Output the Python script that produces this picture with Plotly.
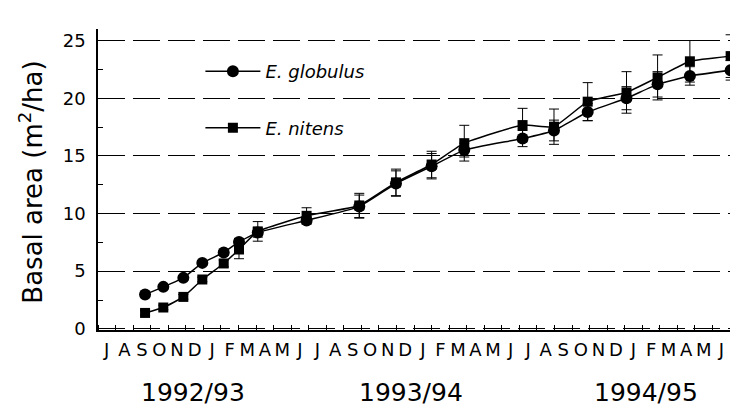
import plotly.graph_objects as go

# ---- data ----
month_labels = ["J", "A", "S", "O", "N", "D", "J", "F", "M", "A", "M", "J"] * 3
month_centres = [i + 0.5 for i in range(36)]
season_labels = ["1992/93", "1993/94", "1994/95"]
season_pos = [5.4, 17.8, 31.2]

# sampling dates, in months since 1 July 1992
t = [2.68, 3.72, 4.86, 5.94, 7.16, 8.03, 9.1, 11.88, 14.88, 16.97, 19.0,
     20.86, 24.18, 25.97, 27.89, 30.1, 31.87, 33.71, 36.03]
globulus = [2.98, 3.64, 4.42, 5.72, 6.62, 7.54, 8.35, 9.4, 10.6, 12.6, 14.1,
            15.5, 16.5, 17.2, 18.8, 20.0, 21.2, 21.93, 22.42]
nitens = [1.38, 1.85, 2.77, 4.28, 5.67, 6.88, 8.45, 9.8, 10.7, 12.7, 14.25,
          16.1, 17.67, 17.53, 19.7, 20.5, 21.8, 23.2, 23.65]
globulus_err = [0.2, 0.2, 0.2, 0.2, 0.2, 0.3, 0.4, 0.3, 1.0, 1.1, 1.1, 0.6,
                0.7, 0.9, 0.75, 1.0, 1.1, 0.8, 0.85]
nitens_err = [0.2, 0.2, 0.2, 0.2, 0.3, 0.8, 0.85, 0.7, 1.05, 1.15, 1.15, 1.55,
              1.45, 1.53, 1.65, 1.8, 1.95, 1.8, 1.85]

FONT = "DejaVu Sans"

fig = go.Figure()
fig.add_trace(go.Scatter(
    x=t, y=globulus, name="<i>E. globulus</i>", legendgroup="g",
    mode="lines+markers",
    line=dict(color="black", width=1.5, shape="spline", smoothing=0.4),
    marker=dict(symbol="circle", size=12, color="black"),
    error_y=dict(type="data", array=globulus_err, color="black",
                 thickness=1, width=5),
    cliponaxis=False,
))
fig.add_trace(go.Scatter(
    x=t, y=nitens, name="<i>E. nitens</i>", legendgroup="n",
    mode="lines+markers",
    line=dict(color="black", width=1.5, shape="spline", smoothing=0.4),
    marker=dict(symbol="square", size=10, color="black"),
    error_y=dict(type="data", array=nitens_err, color="black",
                 thickness=1, width=5),
    cliponaxis=False,
))

for lab, pos in zip(season_labels, season_pos):
    fig.add_annotation(x=pos, xref="x", y=-0.209, yref="paper",
                       text=lab, showarrow=False, xanchor="center",
                       yanchor="middle",
                       font=dict(family=FONT, size=25, color="black"))

fig.add_annotation(x=-0.106, xref="paper", y=0.49, yref="paper",
                   text="Basal area (m<sup>2</sup>/ha)", textangle=-90,
                   showarrow=False, xanchor="center", yanchor="middle",
                   font=dict(family=FONT, size=26, color="black"))

# page body has an 8px margin, so the figure is 8px smaller than the window
fig.update_layout(
    width=730, height=409,
    margin=dict(l=90, r=0, t=21, b=87),
    paper_bgcolor="white", plot_bgcolor="white",
    font=dict(family=FONT, color="black"),
    showlegend=True,
    legend=dict(x=0.16, y=0.92, xanchor="left", yanchor="top",
                bgcolor="rgba(0,0,0,0)", itemwidth=55,
                tracegroupgap=30,
                font=dict(family=FONT, size=18, color="black")),
    xaxis=dict(
        range=[0, 36.45], showgrid=False, zeroline=False, automargin=False,
        showline=True, linecolor="black", linewidth=1.5,
        tickmode="array", tickvals=month_centres, ticktext=month_labels,
        ticks="", ticklabelstandoff=3,
        tickfont=dict(family=FONT, size=18, color="black"),
        minor=dict(tickmode="linear", tick0=0, dtick=1, ticks="inside",
                   ticklen=5, tickcolor="black", tickwidth=1,
                   showgrid=False),
    ),
    yaxis=dict(
        range=[-0.1, 26.0], zeroline=False, automargin=False,
        showline=True, linecolor="black", linewidth=1.5,
        tickmode="array", tickvals=[0, 5, 10, 15, 20, 25],
        ticks="", ticklabelstandoff=7,
        showgrid=True, gridcolor="black", gridwidth=1.2,
        griddash="27px,8px",
        tickfont=dict(family=FONT, size=18, color="black"),
        minor=dict(tickmode="linear", tick0=2.5, dtick=5, ticks="inside",
                   ticklen=5, tickcolor="black", tickwidth=1,
                   showgrid=False),
    ),
)

fig.write_html("out.html")
